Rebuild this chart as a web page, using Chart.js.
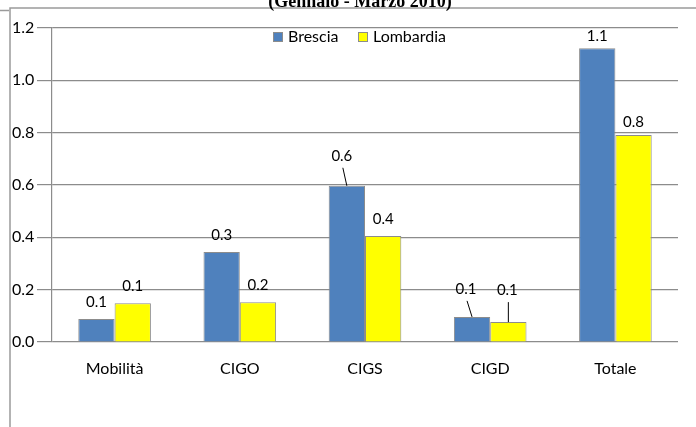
<!DOCTYPE html>
<html>
<head>
<meta charset="utf-8">
<script src="https://cdn.jsdelivr.net/npm/chart.js@4.4.1/dist/chart.umd.min.js"></script>
<style>
    html, body { margin: 0; padding: 0; background: #fff; }
    #wrap { width: 696px; height: 427px; }
</style>
</head>
<body>
<div id="wrap"><canvas id="chart" width="696" height="427"></canvas></div>
<script>
// Chart data
const categories = ['Mobilità', 'CIGO', 'CIGS', 'CIGD', 'Totale'];
const bresciaValues = [0.088, 0.344, 0.597, 0.096, 1.123];
const lombardiaValues = [0.148, 0.152, 0.405, 0.076, 0.791];
const seriesNames = ['Brescia', 'Lombardia'];
const yTickValues = [0, 0.2, 0.4, 0.6, 0.8, 1.0, 1.2];
const titleText = '(Gennaio - Marzo 2010)';

const FONT = 'Lato, "Liberation Sans", sans-serif';

// label nudges (dataset-index -> [dx, dy, leader line])
const labelNudge = {
    '0-2': [-5, -30, true],
    '0-3': [-6, -28, true],
    '1-3': [-1, -32, true],
    '0-4': [0, -12, false],
    '1-4': [0, -13, false]
};

// frame + cut-off title
const framePlugin = {
    id: 'frame',
    beforeDraw(chart) {
        const ctx = chart.ctx;
        ctx.save();
        ctx.fillStyle = '#fff';
        ctx.fillRect(0, 0, chart.width, chart.height);
        ctx.strokeStyle = '#9a9a9a';
        ctx.lineWidth = 1.5;
        ctx.beginPath();
        ctx.moveTo(10, chart.height);
        ctx.lineTo(10, 8);
        ctx.lineTo(chart.width, 8);
        ctx.moveTo(0, 10.5);
        ctx.lineTo(9, 10.5);
        ctx.stroke();
        ctx.fillStyle = '#000';
        ctx.font = 'bold 18px "Liberation Serif", "Times New Roman", serif';
        ctx.textAlign = 'center';
        ctx.textBaseline = 'alphabetic';
        ctx.fillText(titleText, 360, 7);
        ctx.restore();
    }
};

// legend inside plot area
const legendPlugin = {
    id: 'innerLegend',
    afterDraw(chart) {
        const ctx = chart.ctx;
        const positions = [[273, 288], [358, 373]];
        ctx.save();
        ctx.font = '16px ' + FONT;
        ctx.textBaseline = 'middle';
        ctx.textAlign = 'left';
        chart.data.datasets.forEach((ds, i) => {
            const [bx, tx] = positions[i];
            ctx.fillStyle = ds.backgroundColor;
            ctx.fillRect(bx, 32, 9, 9);
            ctx.strokeStyle = '#8c8c8c';
            ctx.lineWidth = 1;
            ctx.strokeRect(bx + 0.5, 32.5, 9, 9);
            ctx.fillStyle = '#000';
            ctx.fillText(ds.label, tx, 37);
        });
        ctx.restore();
    }
};

// value labels above bars
const valueLabelPlugin = {
    id: 'valueLabels',
    afterDatasetsDraw(chart) {
        const ctx = chart.ctx;
        ctx.save();
        ctx.font = '15px ' + FONT;
        ctx.textAlign = 'center';
        ctx.textBaseline = 'middle';
        chart.data.datasets.forEach((ds, di) => {
            const meta = chart.getDatasetMeta(di);
            meta.data.forEach((bar, i) => {
                const nudge = labelNudge[di + '-' + i] || [0, -17, false];
                const lx = bar.x + nudge[0];
                const ly = bar.y + nudge[1];
                if (nudge[2]) {
                    ctx.strokeStyle = '#000';
                    ctx.lineWidth = 1;
                    ctx.beginPath();
                    ctx.moveTo(lx + 1, ly + 12);
                    ctx.lineTo(bar.x, bar.y);
                    ctx.stroke();
                }
                ctx.fillStyle = '#000';
                ctx.fillText(ds.data[i].toFixed(1), lx, ly);
            });
        });
        ctx.restore();
    }
};

const ctx = document.getElementById('chart').getContext('2d');
const chart = new Chart(ctx, {
    type: 'bar',
    data: {
        labels: categories,
        datasets: [
            {
                label: seriesNames[0],
                data: bresciaValues,
                backgroundColor: '#4f81bd',
                borderColor: '#8c8c8c',
                borderWidth: 1
            },
            {
                label: seriesNames[1],
                data: lombardiaValues,
                backgroundColor: '#ffff00',
                borderColor: '#8c8c8c',
                borderWidth: 1
            }
        ]
    },
    options: {
        responsive: false,
        animation: false,
        devicePixelRatio: 1,
        layout: {
            padding: { top: 28, right: 18, bottom: 0, left: 12 }
        },
        datasets: {
            bar: {
                categoryPercentage: 0.58,
                barPercentage: 1.0
            }
        },
        plugins: {
            legend: { display: false },
            title: { display: false },
            tooltip: { enabled: false }
        },
        scales: {
            x: {
                grid: { display: false, drawTicks: false },
                border: { display: false },
                ticks: {
                    color: '#000',
                    font: { family: FONT, size: 16 },
                    padding: 17
                },
                afterFit(scale) {
                    scale.height = 85;
                }
            },
            y: {
                min: 0,
                max: 1.2,
                afterBuildTicks(scale) {
                    scale.ticks = yTickValues.map(v => ({ value: v }));
                },
                grid: {
                    color: '#8c8c8c',
                    lineWidth: 1.2,
                    tickLength: 15,
                    drawTicks: true
                },
                border: { display: true, color: '#8c8c8c', width: 1.2 },
                ticks: {
                    color: '#000',
                    font: { family: FONT, size: 16 },
                    crossAlign: 'far',
                    padding: 2,
                    callback: v => Number(v).toFixed(1)
                },
                afterFit(scale) {
                    scale.width = 40;
                }
            }
        }
    },
    plugins: [framePlugin, legendPlugin, valueLabelPlugin]
});
</script>
</body>
</html>
